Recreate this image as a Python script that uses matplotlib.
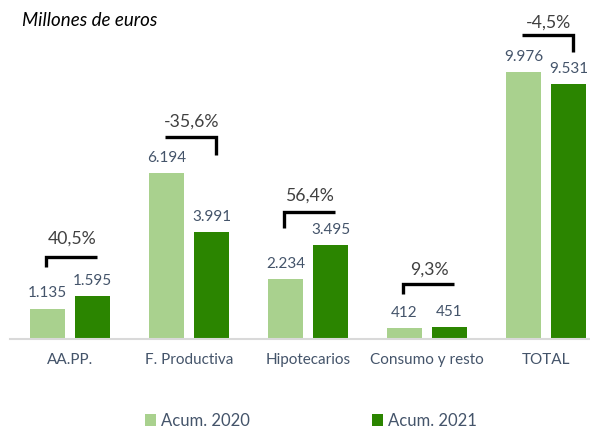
import matplotlib
matplotlib.use("Agg")
import matplotlib.pyplot as plt
import numpy as np

plt.rcParams['font.family'] = ['Lato', 'DejaVu Sans']

categories = ["AA.PP.", "F. Productiva", "Hipotecarios", "Consumo y resto", "TOTAL"]
acum_2020 = [1135, 6194, 2234, 412, 9976]
acum_2021 = [1595, 3991, 3495, 451, 9531]
variacion = ["40,5%", "-35,6%", "56,4%", "9,3%", "-4,5%"]
series_names = ["Acum. 2020", "Acum. 2021"]

LIGHT = "#A9D18E"
DARK = "#2B8500"
LABEL_C = "#44546A"
PCT_C = "#404040"

fig = plt.figure(figsize=(5.9, 4.28), dpi=100)
ax = fig.add_axes([10/590, (428-339)/428, 580/590, 319/428])

x = np.arange(len(categories))
w = 0.30
off = 0.19
b1 = ax.bar(x - off, acum_2020, w, color=LIGHT, label=series_names[0])
b2 = ax.bar(x + off, acum_2021, w, color=DARK, label=series_names[1])

ax.set_xlim(-0.504, 4.37)
ax.set_ylim(0, 9976 * 319 / 267)

def fmt(v):
    return f"{v:,}".replace(",", ".")

for bars, vals in ((b1, acum_2020), (b2, acum_2021)):
    for rect, v in zip(bars, vals):
        ax.annotate(fmt(v), (rect.get_x() + rect.get_width()/2, v),
                    xytext=(0, 6), textcoords="offset points",
                    ha="center", va="bottom", fontsize=11, color=LABEL_C)

# brackets showing the change
bracket_px = [39, 36, 33, 43, 37]     # vertical offset above tallest bar (pixels)
tick_px = [10, 18, 16, 10, 17]        # length of vertical tick (pixels)
text_px = [19, 16, 17, 14, 12]
for i in range(len(categories)):
    top = max(acum_2020[i], acum_2021[i])
    y0 = ax.transData.transform((0, top))[1] + bracket_px[i]
    yb = ax.transData.inverted().transform((0, y0))[1]
    yt = ax.transData.inverted().transform((0, y0 - tick_px[i]))[1]
    xl, xr = x[i] - 0.205, x[i] + 0.225
    if acum_2021[i] >= acum_2020[i]:
        xs, ys = [xl, xl, xr], [yt, yb, yb]
    else:
        xs, ys = [xl, xr, xr], [yb, yb, yt]
    ax.plot(xs, ys, color="black", lw=2.4, solid_joinstyle="miter",
            solid_capstyle="butt", clip_on=False)
    ytxt = ax.transData.inverted().transform((0, y0 + text_px[i]))[1]
    ax.text(x[i] + 0.02, ytxt, variacion[i], ha="center", va="center",
            fontsize=12.7, color=PCT_C)

for s in ["top", "right", "left"]:
    ax.spines[s].set_visible(False)
ax.spines["bottom"].set_color("#D9D9D9")
ax.spines["bottom"].set_linewidth(1.5)
ax.set_yticks([])
ax.set_xticks(x)
ax.set_xticklabels(categories, fontsize=11, color=LABEL_C)
ax.tick_params(axis="x", length=0, pad=10)

fig.text(22/590, 1 - 20/428, "Millones de euros", style="italic",
         fontsize=13.5, color="black", ha="left", va="center")

fig.legend(handles=[b1, b2], labels=series_names, loc="center",
           bbox_to_anchor=(0.527, 1 - 421/428), ncol=2, frameon=False,
           fontsize=12, handlelength=0.7, handleheight=0.7,
           handletextpad=0.3, columnspacing=7.3, labelcolor=LABEL_C)

fig.savefig("out.png", dpi=100)
